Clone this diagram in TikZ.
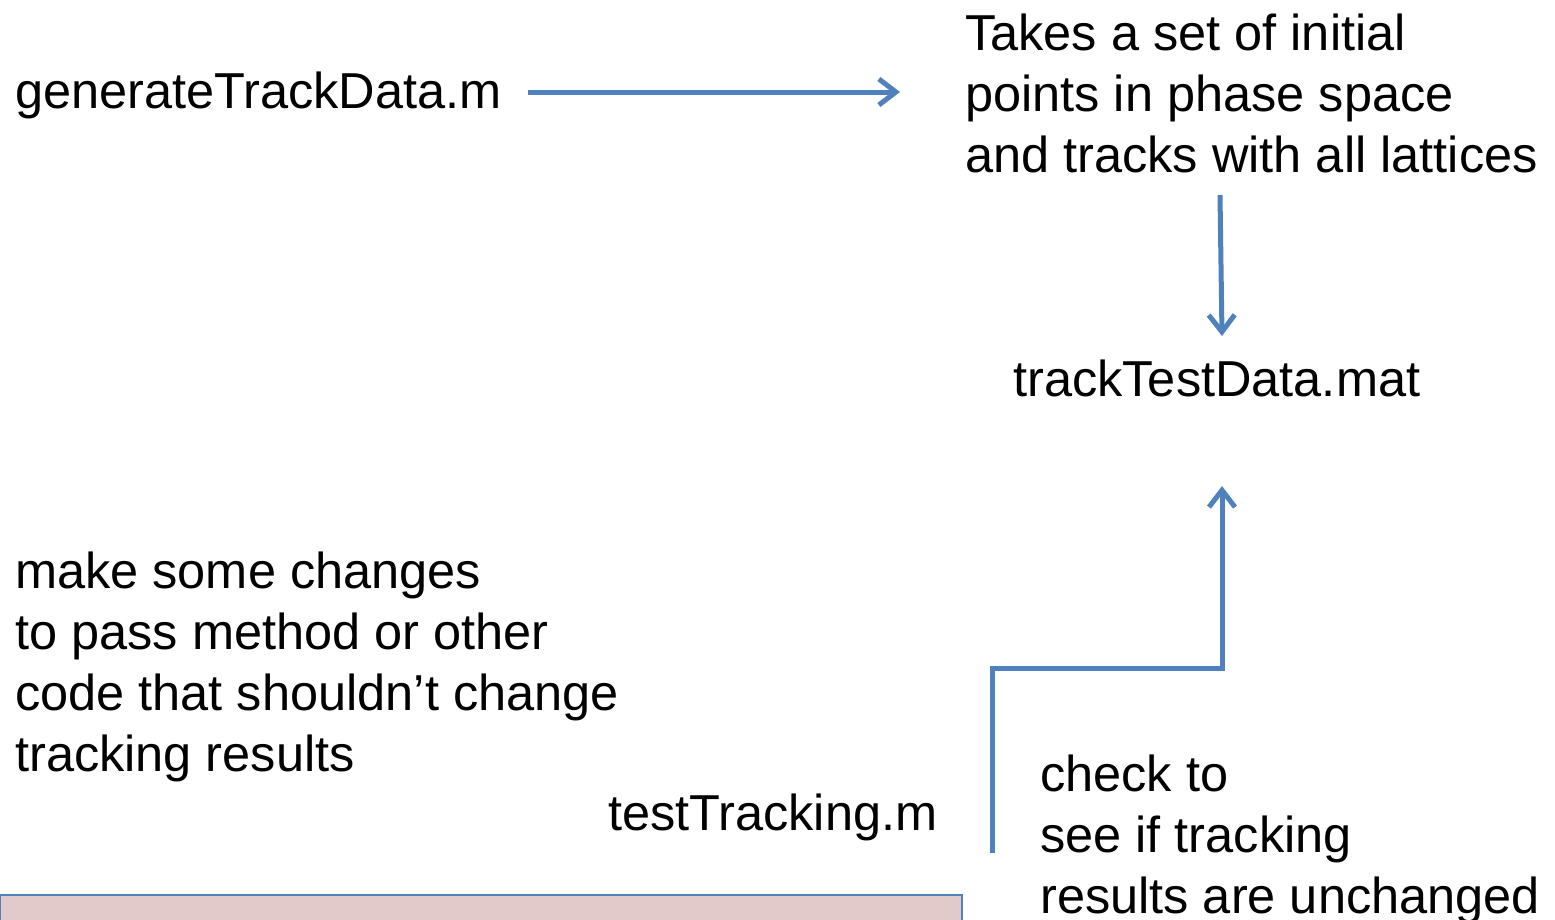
\documentclass[tikz,border=0pt]{standalone}
\usepackage{fontspec}
\setmainfont{Liberation Sans}
\usetikzlibrary{arrows.meta}
\definecolor{arrowblue}{HTML}{4F81BD}
\definecolor{boxpink}{HTML}{E3CACA}
\begin{document}
\begin{tikzpicture}[x=1pt,y=-1pt,
  lbl/.style={inner sep=0pt, anchor=base west, align=left, font=\fontsize{50.5}{61}\selectfont},
  conn/.style={draw=arrowblue, line width=5pt, -{Straight Barb[length=17pt,width=26pt,line width=5pt]}}]
\useasboundingbox (0,0) rectangle (1555,919);
\node[lbl] (gen) at (15,108) {generateTrackData.m};
\node[lbl] (takes) at (965,172) {Takes a set of initial\\points in phase space\\and tracks with all lattices};
\node[lbl] (mat) at (1013,396) {trackTestData.mat};
\node[lbl] (make) at (15,771) {make some changes\\to pass method or other\\code that shouldn’t change\\tracking results};
\node[lbl] (test) at (608,830) {testTracking.m};
\node[lbl] (check) at (1040,913) {check to\\see if tracking\\results are unchanged};
\coordinate (a1s) at (528,92);
\coordinate (a1e) at (900,92);
\coordinate (a2s) at (1220,195);
\coordinate (a2e) at (1222,336);
\coordinate (a3s) at (992,853);
\coordinate (a3m) at (992,668);
\coordinate (a3n) at (1222,668);
\coordinate (a3e) at (1222,486);
\draw[conn] (a1s) -- (a1e);
\draw[conn] (a2s) -- (a2e);
\draw[conn] (a3s) -- (a3m) -- (a3n) -- (a3e);
\draw[draw=arrowblue, line width=2pt, fill=boxpink] (0,895) rectangle (962,960);
\end{tikzpicture}
\end{document}
